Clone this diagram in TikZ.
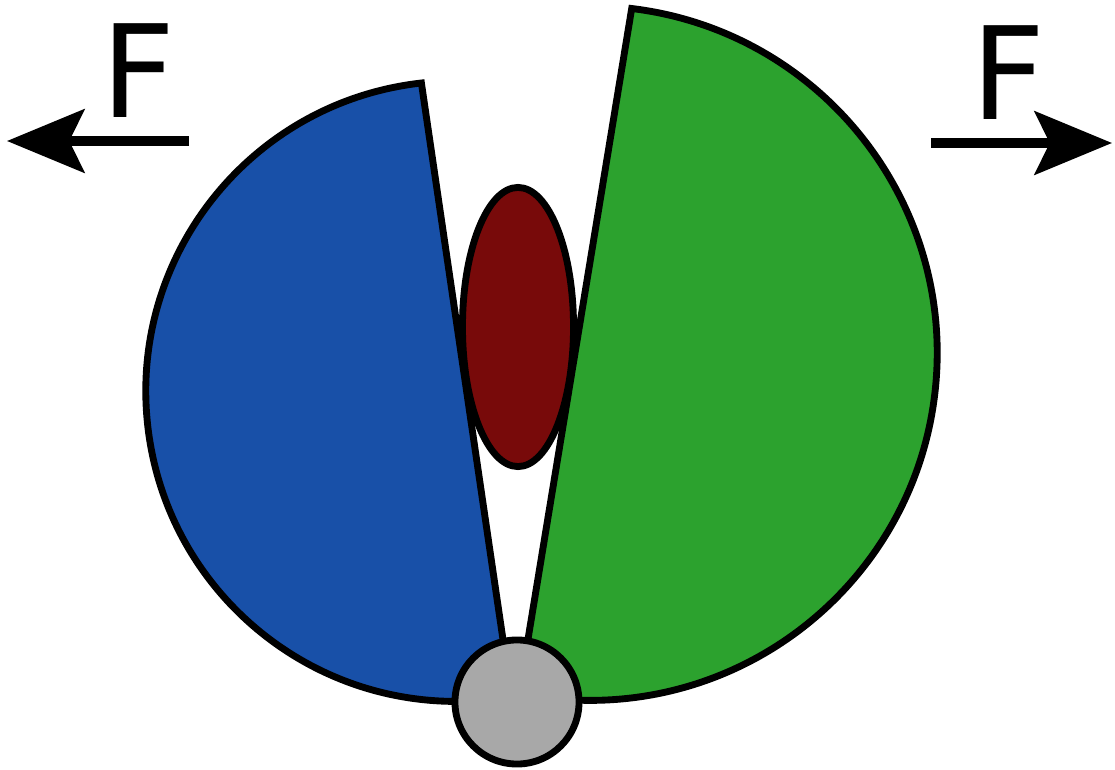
\documentclass[tikz,border=0pt]{standalone}
\usepackage{fontspec}
\newfontfamily\labelfont{DejaVu Sans}
\usetikzlibrary{shapes.geometric,arrows.meta}
\definecolor{lobeblue}{RGB}{24,80,168}
\definecolor{lobegreen}{RGB}{44,162,46}
\definecolor{coredred}{RGB}{120,10,10}
\definecolor{hingegray}{RGB}{168,168,168}
\tikzset{
  outline/.style={draw=black, line width=1.95pt, line join=miter},
  forcearrow/.style={line width=2.56pt, -{Stealth[length=22pt, width=18pt, inset=4.3pt]}},
  forcelabel/.style={font=\labelfont\fontsize{36.6}{40}\selectfont, inner sep=0pt, anchor=base}
}
\begin{document}
\begin{tikzpicture}[x=0.01cm, y=0.01cm]
\path[use as bounding box] (0,0) rectangle (1115,769);
% blue lobe
\path[outline, fill=lobeblue] (421.4,686) arc[start angle=96.4, end angle=270, radius=3.10cm] -- (512,68) -- cycle;
% green lobe
\path[outline, fill=lobegreen] (631.7,760.5) arc[start angle=83.1, end angle=-92, radius=3.47cm] -- (518,69) -- cycle;
% red ellipse
\node[ellipse, outline, fill=coredred, minimum width=1.11cm, minimum height=2.79cm, inner sep=0pt] (core) at (518,442) {};
% gray hinge
\node[circle, outline, fill=hingegray, minimum size=1.24cm, inner sep=0pt] (hinge) at (517,67) {};
% force arrows
\coordinate (lstart) at (189,628);
\coordinate (ltip) at (7,628);
\coordinate (rstart) at (931,626);
\coordinate (rtip) at (1112,626);
\draw[forcearrow] (lstart) -- (ltip);
\draw[forcearrow] (rstart) -- (rtip);
\node[forcelabel] (lF) at (138.5,651) {F};
\node[forcelabel] (rF) at (1008.5,649) {F};
\end{tikzpicture}
\end{document}
